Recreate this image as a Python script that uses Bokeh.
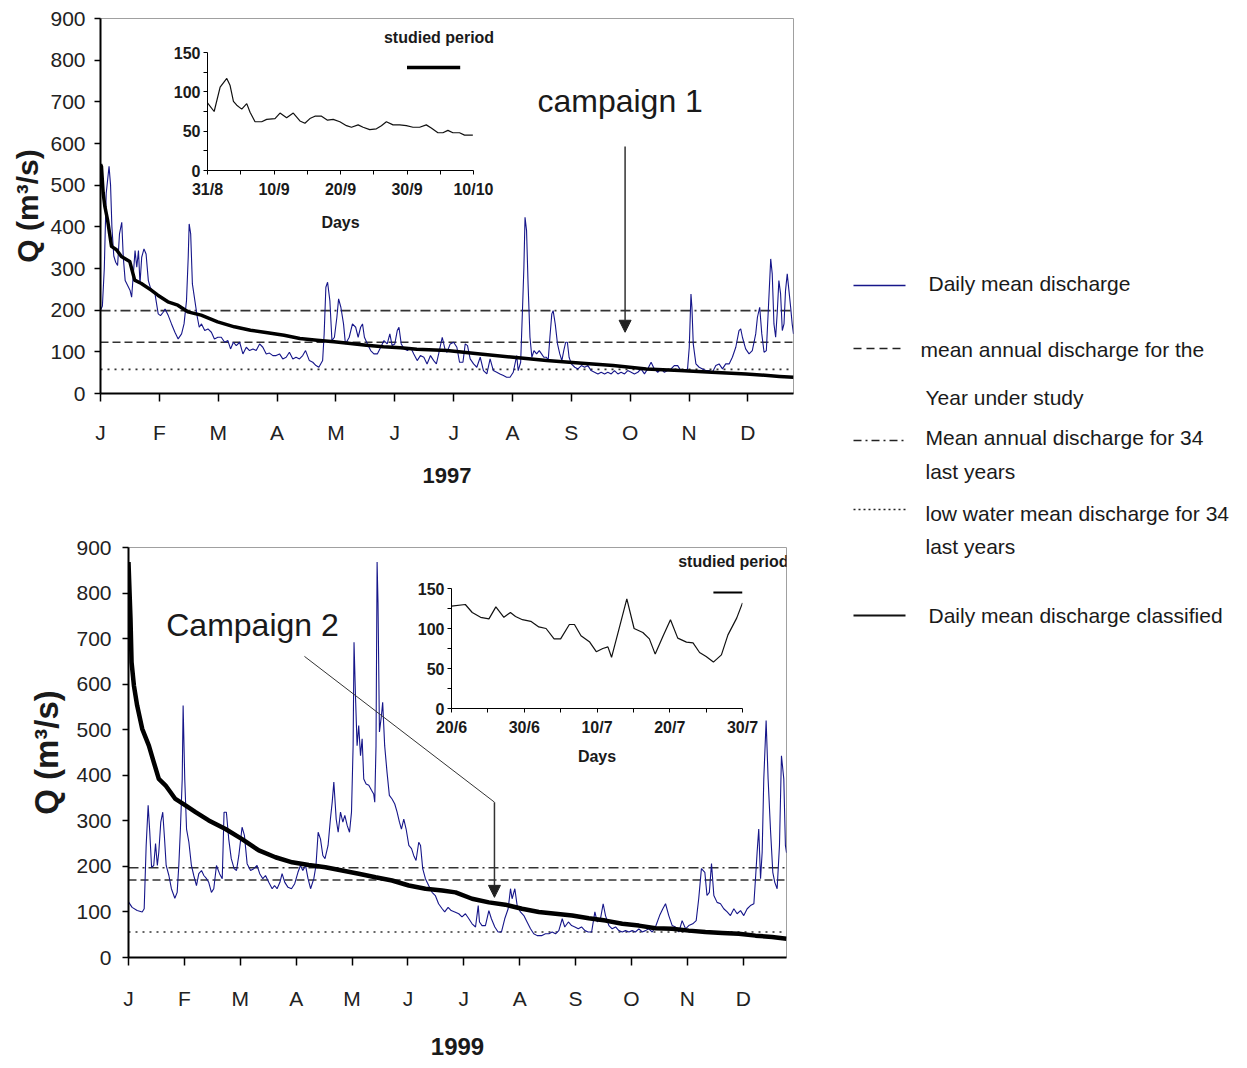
from bokeh.plotting import figure
from bokeh.layouts import column
from bokeh.models import FixedTicker, Span, Label, Arrow, NormalHead, Range1d
from bokeh.core.properties import value
from bokeh.embed import file_html
from bokeh.resources import INLINE

SANS = "Liberation Sans"
BLUE = "#16168a"
INK = "#1a1a1a"

# ---------------- data ----------------
month_letters = ["J", "F", "M", "A", "M", "J", "J", "A", "S", "O", "N", "D"]
month_starts = [0, 31, 62, 93, 124, 155, 186, 217, 248, 279, 310, 341]

# 1997 daily mean discharge (day of year, m3/s)
daily_1997 = [
    (0, 200), (1, 210), (2, 300), (3, 480), (4.5, 545), (5.3, 500), (6, 400), (7, 330), (8, 315), (9, 307),
    (10, 383), (11.2, 411), (12, 327), (13, 271), (14.3, 259), (15.6, 247), (16.4, 231), (17.3, 287), (18.2, 343),
    (19.1, 303), (20, 343), (20.8, 263), (21.7, 327), (22.9, 347), (24, 335), (25.2, 271), (26.2, 255), (27.3, 247),
    (28.7, 239), (30.4, 191), (31.6, 187), (33, 195), (34, 203), (35.7, 187), (37.4, 167), (39.2, 147), (40.9, 131),
    (42.7, 143), (44, 167), (45.3, 223), (46.2, 327), (46.7, 407), (47.5, 383), (48.4, 263), (49.7, 223), (51, 183),
    (52, 159), (53.2, 167), (54.9, 151), (56.6, 155), (58.4, 147), (60, 131), (61.8, 135), (63.6, 135), (65.4, 123),
    (67.1, 127), (68.5, 107), (70, 123), (71.5, 115), (73.3, 123), (75, 95), (76.8, 111), (78.5, 103), (80.3, 107),
    (82, 103), (83.8, 119), (85.5, 111), (87.3, 95), (89, 97), (90.8, 91), (92.5, 91), (94.3, 95), (96, 83),
    (97.8, 87), (99.5, 99), (101.3, 83), (103, 87), (104.8, 83), (106.5, 91), (108, 103), (110, 79), (111.8, 75),
    (113.5, 67), (115, 63), (117, 79), (117.8, 143), (118.7, 255), (119.6, 267), (120.8, 223), (121.9, 127),
    (123.2, 135), (124.5, 183), (125.4, 227), (126.6, 207), (128, 167), (129, 119), (131, 135), (132.7, 167),
    (134.4, 159), (135.7, 135), (137, 159), (138, 167), (139, 135), (140.6, 119), (142.3, 103), (144, 95),
    (145.8, 95), (147.6, 111), (149.3, 127), (151, 119), (152.4, 143), (153.6, 115), (155, 119), (156.3, 151),
    (157.2, 159), (158.4, 119), (160, 107), (161.7, 103), (163.3, 111), (165, 95), (166.8, 79), (168.5, 91),
    (170.3, 87), (172, 71), (173.8, 91), (175.5, 79), (176.9, 71), (178.1, 95), (180, 135), (181.6, 103),
    (182.5, 99), (184.2, 119), (186, 123), (187.7, 111), (189.1, 75), (190.9, 75), (192.1, 119), (193.3, 115),
    (194.7, 83), (196.5, 71), (198.2, 63), (200, 87), (201.7, 55), (203.5, 47), (205.2, 83), (206.9, 55),
    (208.7, 51), (210.4, 47), (212.2, 43), (213.9, 39), (215.7, 39), (217.4, 51), (219.2, 91), (220, 55),
    (221.3, 75), (222.3, 207), (223, 303), (223.6, 423), (224.4, 391), (225.2, 263), (226.2, 135), (227.2, 87),
    (228.3, 103), (229.7, 95), (231.1, 103), (232.3, 95), (233.5, 87), (234.9, 87), (235.8, 79), (236.7, 135),
    (237.7, 191), (238.4, 199), (239.5, 167), (240.7, 119), (241.9, 95), (243, 79), (244, 103), (245, 123),
    (245.9, 123), (246.8, 87), (248, 71), (249.8, 63), (251.5, 59), (253.3, 67), (255, 63), (256.7, 67),
    (258.4, 55), (260.2, 51), (262, 47), (263.7, 51), (265.5, 47), (267.2, 51), (269, 47), (270.7, 55),
    (272.5, 47), (274.2, 51), (276, 47), (277.7, 55), (279.5, 51), (281.2, 47), (283, 51), (284.7, 59),
    (286.5, 47), (288.2, 59), (290, 75), (291.7, 59), (293.5, 51), (295.2, 59), (297, 51), (298.7, 55),
    (300.5, 59), (302.2, 67), (304, 67), (305.7, 55), (307.5, 55), (309.2, 59), (310.1, 111), (311, 239),
    (311.5, 207), (312.2, 119), (313.6, 71), (315.3, 63), (317.1, 59), (318.8, 55), (320.6, 55), (322.3, 51),
    (324.1, 67), (325.8, 71), (327.6, 59), (329.3, 71), (331.1, 71), (332.8, 87), (334.6, 111), (336.3, 151),
    (337.2, 155), (338.1, 135), (339.8, 107), (341.6, 95), (343.3, 103), (345.1, 143), (346, 183), (347.2, 207),
    (348.3, 143), (349.5, 99), (350.7, 103), (351.8, 207), (353, 323), (353.8, 287), (354.7, 167), (355.6, 135),
    (356.5, 199), (357.3, 271), (358.2, 239), (359.1, 151), (360, 167), (360.8, 247), (361.7, 287), (362.6, 247),
    (363.5, 207), (364.3, 167), (365, 143),
]
# 1997 classified (sorted) daily discharge
classified_1997 = [
    (0, 550), (0.5, 545), (1.4, 481), (2.3, 449), (3.7, 417), (5.8, 353), (8.4, 345), (11, 329), (15.4, 317),
    (18, 272), (21.5, 264), (26.7, 248), (30.2, 236), (35.5, 220), (40.7, 212), (46, 196), (53, 188), (61.7, 172),
    (70.5, 160), (79, 152), (88, 146), (96.7, 140), (105, 132), (114, 128), (123, 124), (131.6, 120), (140, 116),
    (149, 112), (158, 110), (166.6, 106), (182.5, 103), (200, 95), (217.4, 87), (235, 79), (252, 73), (270, 67),
    (287.5, 59), (305, 55), (322, 51), (340, 47), (357.6, 41), (365, 39),
]
ref_1997 = {"mean_34": 199, "year_mean": 123, "low_34": 58}

daily_1999 = [
    (0, 122), (2, 110), (4.8, 103), (7.6, 100), (8.7, 107), (9.8, 246), (10.9, 334), (11.8, 275), (12.8, 198),
    (14, 202), (15, 250), (16, 202), (16.8, 231), (17.9, 297), (19, 319), (20, 260), (20.9, 202), (22.4, 180),
    (23.8, 151), (25.7, 130), (27, 143), (27.9, 202), (28.8, 282), (29.8, 392), (30.3, 553), (31.2, 392),
    (32.2, 282), (33.5, 253), (34.9, 202), (36.2, 180), (37.7, 158), (39, 184), (40.5, 191), (41.8, 180),
    (43.3, 173), (44.5, 165), (46, 143), (47.3, 151), (48.8, 202), (50.5, 184), (52, 173), (53, 319), (54.3, 319),
    (55.6, 260), (57, 217), (58.6, 195), (59.9, 191), (61.2, 224), (63, 286), (64.3, 268), (65.8, 206),
    (67.7, 191), (69.5, 195), (71.3, 202), (72.8, 184), (74.5, 173), (76, 180), (77.8, 165), (79.7, 151),
    (81, 158), (82.4, 151), (84, 165), (85.2, 184), (86.7, 165), (88.5, 154), (90.4, 151), (92.2, 162),
    (94, 187), (95.4, 202), (96.7, 191), (98.2, 202), (99.6, 173), (101, 151), (102.8, 173), (104, 202),
    (105.2, 275), (106.5, 260), (107.8, 224), (109, 217), (110.7, 246), (112, 304), (113, 341), (113.9, 385),
    (115.2, 304), (116.3, 275), (117.6, 319), (118.9, 297), (120, 312), (121.3, 290), (122.6, 275), (123.7, 319),
    (124.6, 465), (125.1, 692), (125.9, 575), (126.8, 465), (127.7, 509), (128.7, 443), (129.6, 480),
    (130.5, 392), (131.8, 381), (133.3, 378), (134.8, 367), (136, 359), (136.6, 341), (137.3, 465), (137.9, 868),
    (138.4, 780), (139.2, 495), (140.3, 531), (141, 560), (142.1, 465), (143.4, 407), (144.7, 356), (146.2, 348),
    (147.7, 337), (149, 319), (150.3, 297), (151.4, 282), (152.7, 304), (154, 282), (155.5, 246), (157, 239),
    (158.2, 224), (159.5, 213), (161, 253), (162, 246), (163.2, 195), (164.7, 173), (166.5, 158), (168.4, 143),
    (170.2, 136), (172, 118), (174, 107), (175.4, 100), (177.3, 110), (179, 103), (181, 100), (183.2, 96),
    (185, 89), (186.9, 96), (188.8, 85), (190.6, 74), (192.5, 67), (194, 114), (194.7, 78), (196.1, 70),
    (198, 70), (199.9, 103), (201.3, 85), (203.2, 67), (205, 56), (206.9, 56), (208.7, 85), (210.6, 107),
    (211.9, 151), (212.8, 129), (214.3, 151), (215.6, 114), (217.4, 100), (219.3, 92), (221.1, 78), (223, 63),
    (224.8, 52), (226.7, 48), (229.1, 48), (231.3, 52), (233.2, 52), (235, 56), (236.9, 52), (238.7, 59),
    (240.6, 85), (242, 67), (244, 78), (245.8, 70), (247.6, 67), (249.5, 63), (251.3, 67), (253.2, 59),
    (255, 56), (256.9, 56), (258.7, 100), (260, 78), (261.8, 85), (263.3, 118), (264.6, 92), (266.5, 70),
    (268.3, 63), (270.2, 67), (272, 59), (273.9, 56), (275.7, 59), (277.6, 56), (279.4, 59), (281.2, 56),
    (283.1, 63), (285, 56), (286.8, 59), (288.6, 63), (290.5, 56), (292.3, 67), (294.6, 92), (296.4, 107),
    (297.9, 118), (299.7, 92), (301.6, 70), (303.4, 67), (305.3, 56), (307.1, 81), (309, 63), (310.8, 70),
    (313, 74), (314.9, 81), (316.3, 129), (317.8, 195), (319.7, 187), (320.9, 136), (322.2, 143), (323.4, 206),
    (324.7, 136), (326.5, 121), (328.4, 118), (330.2, 107), (332.1, 100), (333.9, 92), (335.8, 107), (337.6, 96),
    (339.5, 103), (341.3, 92), (343.2, 107), (345, 114), (346.9, 118), (347.8, 173), (348.7, 231), (349.6, 282),
    (350.6, 173), (351.5, 231), (352.4, 392), (353.7, 520), (354.8, 392), (356.1, 282), (357.4, 187),
    (358.5, 165), (359.8, 151), (361.1, 246), (362.2, 443), (363.5, 392), (364.4, 246), (365, 230),
]
classified_1999 = [
    (0, 868), (0.6, 800), (1.1, 745), (1.7, 648), (3, 597), (4.8, 553), (7.6, 502), (11.3, 465), (14, 429),
    (16.8, 392), (20.5, 378), (26, 348), (31.6, 334), (37.2, 319), (44.5, 301), (53.8, 282), (63, 260),
    (72.3, 235), (81.5, 220), (90.8, 209), (100, 203), (109.2, 198), (118.5, 191), (127.7, 184), (137, 176),
    (146.2, 169), (155.5, 158), (164.7, 151), (174, 147), (181.4, 143), (190.6, 129), (199.9, 121), (209, 116),
    (218.3, 107), (227.6, 100), (236.9, 96), (246.1, 92), (255.3, 86), (264.6, 81), (273.9, 74), (283.1, 70),
    (292.3, 64), (301.6, 63), (310.8, 59), (320, 56), (329.3, 54), (338.5, 52), (347.8, 48), (357, 45), (365, 41),
]
ref_1999 = {"mean_34": 197, "year_mean": 170, "low_34": 56}

# insets: days after start date, discharge
inset_1997 = [
    (0, 86), (1, 75), (1.9, 106), (2.9, 117), (3.4, 108), (3.9, 88), (4.4, 83), (5.15, 78), (5.9, 85), (6.4, 74),
    (7.15, 62), (8.15, 62), (8.9, 65), (10.15, 66), (10.9, 73), (11.9, 67), (12.9, 73), (13.9, 63), (14.65, 60),
    (15.4, 66), (16.15, 69), (17.15, 69), (18.05, 64), (18.9, 65), (19.9, 62), (20.9, 57), (21.65, 55),
    (22.65, 58), (23.4, 55), (24.4, 52), (25.4, 53), (26.15, 57), (26.9, 62), (27.9, 58), (28.9, 58), (29.9, 57),
    (30.9, 55), (31.9, 55), (32.9, 58), (33.65, 54), (34.65, 48), (35.4, 48), (36.15, 51), (36.9, 48),
    (37.9, 48), (38.65, 45), (39.9, 45),
]
inset_1997_ticks = [0, 10, 20, 30, 40]
inset_1997_labels = ["31/8", "10/9", "20/9", "30/9", "10/10"]
studied_1997 = (30, 38, 131)

inset_1999 = [
    (0, 128), (1.9, 130), (2.85, 120), (4, 114), (5.15, 112), (6.1, 127), (7.2, 114), (8.1, 120), (8.8, 115),
    (9.75, 111), (10.9, 109), (12, 102), (13, 100), (14.1, 87), (15, 87), (16.2, 105), (16.9, 105), (17.8, 91),
    (19, 83), (19.9, 71), (20.8, 75), (21.5, 77), (22, 64), (23.1, 102), (24.1, 137), (25.1, 100), (26.3, 95),
    (27.2, 87), (28, 68), (29.1, 91), (30.1, 111), (31.1, 88), (32.3, 83), (33.2, 82), (34.1, 70), (35, 65),
    (36, 58), (37.1, 67), (38, 92), (39.2, 113), (40, 132),
]
inset_1999_ticks = [0, 10, 20, 30, 40]
inset_1999_labels = ["20/6", "30/6", "10/7", "20/7", "30/7"]
studied_1999 = (36, 40, 145)

legend_rows = ["Daily mean discharge", "mean annual discharge for the", "Year under study",
               "Mean annual discharge for 34", "last years", "low water mean discharge for 34",
               "last years", "Daily mean discharge classified"]

DASH = {"mean_34": "10 4 2 4", "year_mean": "8 4", "low_34": "2 5"}


def split(pairs):
    return [a for a, _ in pairs], [b for _, b in pairs]


def main_panel(daily, classified, ref, year, fw, fh, borders, margin, title_size, year_size,
               month_standoff, year_standoff, title_standoff, ylab_standoff, cls_width):
    L, R, T, B = borders
    p = figure(width=L + fw + R, height=T + fh + B, x_range=Range1d(0, 365), y_range=Range1d(0, 900),
               output_backend="svg", toolbar_location=None, title=None, frame_align=False,
               min_border_left=L, min_border_right=R, min_border_top=T, min_border_bottom=B,
               outline_line_color="#a0a0a0", outline_line_width=1,
               background_fill_color="white", border_fill_color="white", margin=margin)
    p.grid.visible = False
    for key in ("mean_34", "year_mean", "low_34"):
        p.add_layout(Span(location=ref[key], dimension="width", line_color="#333333",
                          line_width=1.6, line_dash=DASH[key], level="underlay"))
    d, q = split(daily)
    p.line(d, q, line_color=BLUE, line_width=1.1)
    cd, cq = split(classified)
    p.line(cd, cq, line_color="black", line_width=cls_width, line_join="round")

    xa = p.xaxis[0]
    xa.ticker = FixedTicker(ticks=month_starts, minor_ticks=[])
    xa.major_label_overrides = {t: m for t, m in zip(month_starts, month_letters)}
    xa.axis_label = year
    xa.axis_label_text_font = SANS
    xa.axis_label_text_font_style = "bold"
    xa.axis_label_text_font_size = year_size
    xa.axis_label_text_color = INK
    xa.axis_label_standoff = year_standoff

    ya = p.yaxis[0]
    ya.ticker = FixedTicker(ticks=list(range(0, 901, 100)), minor_ticks=[])
    ya.axis_label = "Q (m³/s)"
    ya.axis_label_text_font = SANS
    ya.axis_label_text_font_style = "bold"
    ya.axis_label_text_font_size = title_size
    ya.axis_label_text_color = INK
    ya.axis_label_standoff = title_standoff
    ya.major_label_standoff = ylab_standoff
    ya.major_tick_out = 6

    for ax in (xa, ya):
        ax.axis_line_color = "black"
        ax.axis_line_width = 2
        ax.major_tick_line_color = "black"
        ax.major_tick_line_width = 1.5
        ax.major_tick_in = 0
        ax.minor_tick_line_color = None
        ax.major_label_text_font = SANS
        ax.major_label_text_font_size = "21px"
        ax.major_label_text_color = "#222222"
    xa.major_tick_out = 8
    xa.major_label_standoff = month_standoff
    return p


def inset_panel(pairs, ticks, labels, studied, fw, fh, borders, margin, days_standoff, bar_width):
    L, R, T, B = borders
    p = figure(width=L + fw + R, height=T + fh + B, x_range=Range1d(0, 40), y_range=Range1d(0, 150),
               output_backend="svg", toolbar_location=None, title=None, frame_align=False,
               min_border_left=L, min_border_right=R, min_border_top=T, min_border_bottom=B,
               background_fill_color=None, border_fill_color=None, outline_line_color=None,
               margin=margin)
    p.grid.visible = False
    d, q = split(pairs)
    p.line(d, q, line_color="#111111", line_width=1.2)
    s0, s1, sy = studied
    p.line([s0, s1], [sy, sy], line_color="black", line_width=bar_width)
    xa = p.xaxis[0]
    xa.ticker = FixedTicker(ticks=ticks, minor_ticks=[t + 5 for t in ticks[:-1]])
    xa.major_label_overrides = {t: s for t, s in zip(ticks, labels)}
    xa.axis_label = "Days"
    xa.axis_label_standoff = days_standoff
    xa.axis_label_text_font = SANS
    xa.axis_label_text_font_style = "bold"
    xa.axis_label_text_font_size = "16px"
    xa.axis_label_text_color = INK
    ya = p.yaxis[0]
    ya.ticker = FixedTicker(ticks=[0, 50, 100, 150], minor_ticks=[25, 75, 125])
    for ax in (xa, ya):
        ax.axis_line_color = "black"
        ax.axis_line_width = 1
        ax.major_tick_line_color = "black"
        ax.minor_tick_line_color = "black"
        ax.major_tick_in = 0
        ax.minor_tick_in = 0
        ax.major_tick_out = 4
        ax.minor_tick_out = 4
        ax.major_label_text_font = SANS
        ax.major_label_text_font_style = "bold"
        ax.major_label_text_font_size = "16px"
        ax.major_label_text_color = INK
        ax.major_label_standoff = 3
    xa.major_label_standoff = 6
    return p


def studied_label(p, x, y):
    p.add_layout(Label(x=x, y=y, text="studied period", text_font=SANS, text_font_style="bold",
                       text_font_size="16px", text_color=INK, text_align="center",
                       text_baseline="middle"))


# ---------------- top panel (1997) ----------------
p1 = main_panel(daily_1997, classified_1997, ref_1997, "1997", 696, 375, (89, 10, 10, 100), (8, 0, 0, 8),
                "30px", "22px", 19, 21, 3, 9, 3.5)
p1.add_layout(Label(x=273.7, y=703, text="campaign 1", text_font=SANS, text_font_size="32px",
                    text_color=INK, text_align="center", text_baseline="middle"))
p1.add_layout(Arrow(end=NormalHead(size=12, fill_color="#222222", line_color="#222222"),
                    x_start=276.3, y_start=593, x_end=276.3, y_end=147,
                    line_color="#333333", line_width=1.5))
studied_label(p1, 178.3, 854)

# ---------------- bottom panel (1999) ----------------
p2 = main_panel(daily_1999, classified_1999, ref_1999, "1999", 658, 410, (120, 10, 47, 108),
                (-140, 0, 0, 8), "33px", "24px", 21, 25, 8, 11, 4.5)
p2.add_layout(Label(x=68.8, y=729, text="Campaign 2", text_font=SANS, text_font_size="32px",
                    text_color=INK, text_align="center", text_baseline="middle"))
p2.line([97.6, 203], [661, 341], line_color="#333333", line_width=1)
p2.add_layout(Arrow(end=NormalHead(size=12, fill_color="#222222", line_color="#222222"),
                    x_start=203, y_start=341, x_end=203, y_end=132,
                    line_color="#333333", line_width=1.5))
studied_label(p2, 335.5, 869)

# ---------------- insets ----------------
ins1 = inset_panel(inset_1997, inset_1997_ticks, inset_1997_labels, studied_1997, 266, 118,
                   (40, 30, 30, 70), (-471, 0, 0, 167), 13, 3.5)
ins2 = inset_panel(inset_1999, inset_1999_ticks, inset_1999_labels, studied_1999, 291, 120,
                   (40, 55, 40, 65), (-517, 0, 0, 411), 9, 2)

# ---------------- legend ----------------
leg = figure(width=392, height=385, x_range=Range1d(0, 392), y_range=Range1d(385, 0),
             output_backend="svg", toolbar_location=None, x_axis_type=None, y_axis_type=None,
             title=None, frame_align=False, min_border=0, outline_line_color=None,
             background_fill_color=None, border_fill_color=None, margin=(15, 0, 0, 845))
leg.grid.visible = False
sample_y = [30, 93, 185, 254, 360]
sample_styles = [(BLUE, 1.3, "solid"), ("#222222", 1.4, "8 5"), ("#222222", 1.4, "8 4 2 4"),
                 ("#222222", 1.4, "2 3"), ("#111111", 1.8, "solid")]
for y, (c, w, dsh) in zip(sample_y, sample_styles):
    leg.line([8, 60], [y, y], line_color=c, line_width=w, line_dash=dsh)
text_x = [83, 75, 80, 80, 80, 80, 80, 83]
text_y = [28, 94, 142, 182, 216, 258, 291, 360]
leg.text(x=text_x, y=text_y, text=legend_rows, text_font=value(SANS), text_font_size="21px",
         text_color=INK, text_baseline="middle", text_align="left")

# order: later children paint over earlier ones (insets above the main panels)
layout = column(p1, ins1, leg, p2, ins2, spacing=0)

with open("out.html", "w") as f:
    f.write(file_html(layout, INLINE))
